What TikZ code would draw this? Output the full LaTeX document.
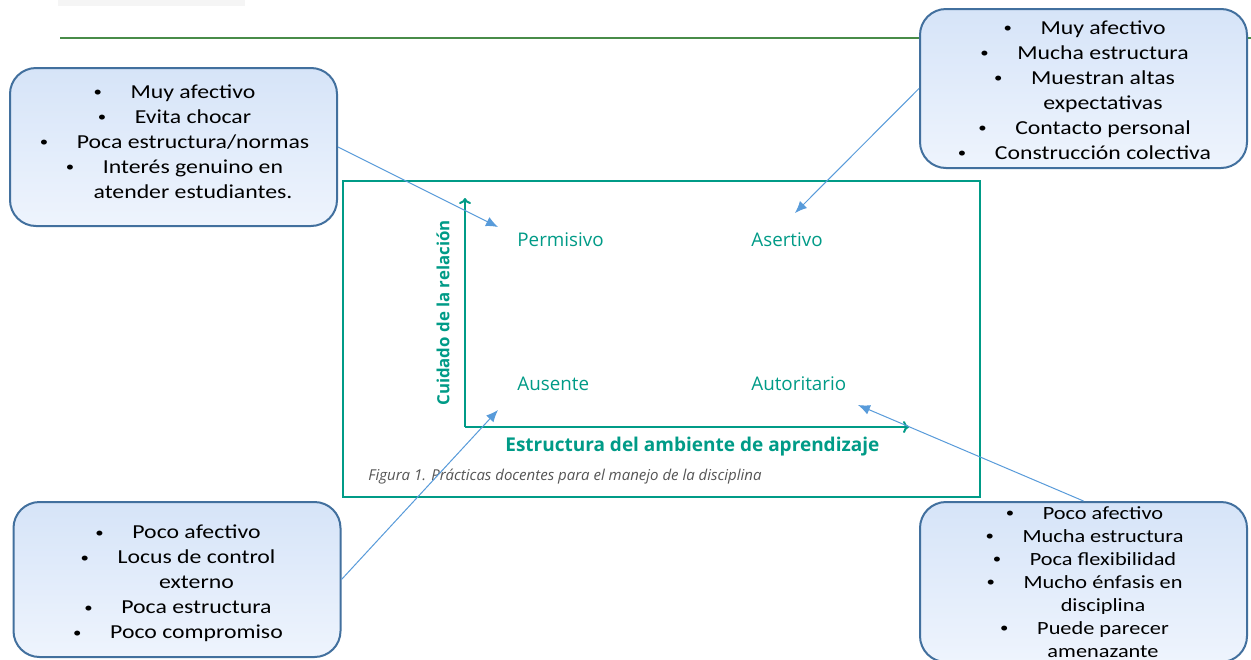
\documentclass[tikz,border=0pt]{standalone}
\usepackage{fontspec}
\setmainfont{Carlito}
\newfontfamily\boxfont[FakeStretch=1.2]{Carlito}
\newfontfamily\figfont{Open Sans}
\usetikzlibrary{arrows.meta}
\definecolor{tealc}{RGB}{0,155,135}
\definecolor{boxborder}{RGB}{66,112,158}
\definecolor{boxtop}{RGB}{214,228,248}
\definecolor{boxmid}{RGB}{186,212,243}
\definecolor{boxbot}{RGB}{238,244,253}
\definecolor{connc}{RGB}{88,155,218}
\definecolor{rulec}{RGB}{72,140,72}
\definecolor{capc}{RGB}{85,85,85}
\newcommand{\bi}[1]{\makebox[19.5pt][l]{\hspace*{1pt}\raisebox{0.8pt}{\fontsize{7}{7}\selectfont\textbullet}}#1}
\newcommand{\ct}[1]{\hspace*{19.5pt}#1}
\tikzset{
  infobox/.style={draw=boxborder, line width=1pt, rounded corners=13pt,
    top color=boxtop, middle color=boxmid, bottom color=boxbot,
    minimum width=163.5pt, inner sep=0pt},
  boxtext/.style={align=center, inner sep=0pt,
    font=\boxfont\fontsize{9.9}{12.5}\selectfont},
  conn/.style={draw=connc, line width=0.5pt, -{Latex[length=6pt,width=5pt]}},
  axis/.style={draw=tealc, line width=1pt, -{To[length=3pt,width=6pt]}},
  quad/.style={text=tealc, anchor=base west, inner sep=0pt,
    font=\figfont\fontsize{9.4}{11}\selectfont},
  axlabel/.style={text=tealc, inner sep=0pt}
}
\begin{document}
\begin{tikzpicture}[x=0.5pt,y=-0.5pt]
\clip (0,0) rectangle (1251,659);
\fill[white] (0,0) rectangle (1251,659);
% faint top bar and rule
\fill[black!4] (58,0) rectangle (245,6);
\draw[rulec, line width=0.8pt] (60,38) -- (1251,38);

% figure frame
\node[draw=tealc, line width=0.8pt, minimum width=318.5pt, minimum height=158pt, inner sep=0pt] (frame) at (661.5,339) {};
\coordinate (o) at (465,427);
\coordinate (ytop) at (465,198);
\coordinate (xend) at (909,427);
\draw[axis] (o) -- (ytop);
\draw[axis] (o) -- (xend);
\node[quad] (perm) at (517,246) {Permisivo};
\node[quad] (aser) at (751,246) {Asertivo};
\node[quad] (ause) at (517,390) {Ausente};
\node[quad] (auto) at (751,390) {Autoritario};
\node[axlabel, rotate=90, font=\figfont\bfseries\fontsize{8.4}{10}\selectfont] (ylab) at (443,313) {Cuidado de la relación};
\node[axlabel, anchor=base west, font=\figfont\bfseries\fontsize{9.5}{11}\selectfont] (xlab) at (505,451) {Estructura del ambiente de aprendizaje};
\node[text=capc, anchor=west, inner sep=0pt, font=\figfont\itshape\fontsize{7.5}{9}\selectfont] (cap) at (368,477) {Figura 1. Prácticas docentes para el manejo de la disciplina};

% boxes
\node[infobox, minimum height=79pt] (tl) at (173.5,147) {};
\node[boxtext] (tltext) at (173.5,141.5) {\bi{Muy afectivo}\\ \bi{Evita chocar}\\ \bi{Poca estructura/normas}\\ \bi{Interés genuino en}\\ \ct{atender estudiantes.}};
\node[infobox, minimum height=79.5pt] (tr) at (1083.5,88.5) {};
\node[boxtext] (trtext) at (1083.5,90) {\bi{Muy afectivo}\\ \bi{Mucha estructura}\\ \bi{Muestran altas}\\ \ct{expectativas}\\ \bi{Contacto personal}\\ \bi{Construcción colectiva}};
\node[infobox, minimum height=77.5pt] (bl) at (177,579.5) {};
\node[boxtext] (bltext) at (177,583.5) {\bi{Poco afectivo}\\ \bi{Locus de control}\\ \ct{externo}\\ \bi{Poca estructura}\\ \bi{Poco compromiso}};
\node[infobox, minimum height=80pt] (br) at (1083.5,582) {};
\node[boxtext, font=\boxfont\fontsize{9.3}{11.5}\selectfont] (brtext) at (1083.5,582) {\bi{Poco afectivo}\\ \bi{Mucha estructura}\\ \bi{Poca flexibilidad}\\ \bi{Mucho énfasis en}\\ \ct{disciplina}\\ \bi{Puede parecer}\\ \ct{amenazante}};

% connectors
\coordinate (tipP) at (498,227);
\coordinate (tipA) at (795,213);
\coordinate (tipAu) at (498,410);
\coordinate (tipAt) at (858,405);
\draw[conn] (tl.east) -- (tipP);
\draw[conn] (tr.west) -- (tipA);
\draw[conn] (bl.east) -- (tipAu);
\draw[conn] (br.north) -- (tipAt);
\end{tikzpicture}
\end{document}
